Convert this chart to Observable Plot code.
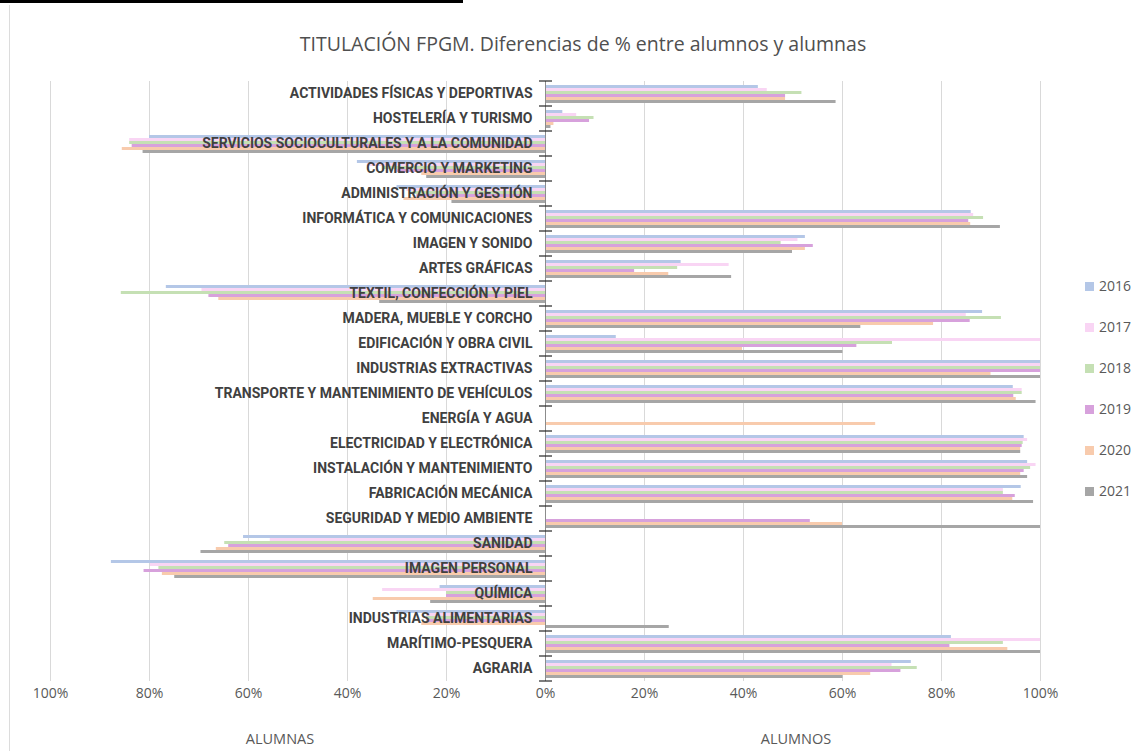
<!DOCTYPE html>
<html>
<head>
<meta charset="utf-8">
<script src="https://cdn.jsdelivr.net/npm/d3@7"></script>
<script src="https://cdn.jsdelivr.net/npm/@observablehq/plot@0.6"></script>
<style>
  body { margin: 0; background: #fff; }
  #wrap { position: relative; width: 1138px; height: 751px; overflow: hidden; background: #fff; font-family: "Open Sans", sans-serif; color: #595959; }
  #wrap svg { position: absolute; left: 0; top: 0; }
  .topline { position: absolute; left: 0; top: 0; width: 463px; height: 3px; background: #000; }
  .leftline { position: absolute; left: 9px; top: 5px; width: 1px; height: 746px; background: #dcdcdc; }
  .title { position: absolute; top: 30px; left: 583px; transform: translateX(-50%); white-space: nowrap; font-size: 19.5px; color: #4f4f4f; }
  .axtitle { position: absolute; top: 729px; transform: translateX(-50%); font-size: 14.5px; color: #595959; white-space: nowrap; }
  .legend { position: absolute; left: 1085px; top: 0; }
  .legend .item { position: absolute; left: 0; white-space: nowrap; font-size: 14px; color: #595959; line-height: 20px; height: 20px; }
  .legend .sw { display: inline-block; width: 9px; height: 9px; margin-right: 5px; vertical-align: 0px; }
</style>
</head>
<body>
<div id="wrap">
  <div class="topline"></div>
  <div class="leftline"></div>
</div>
<script>
// ---- data ----
const categories = [
  "ACTIVIDADES FÍSICAS Y DEPORTIVAS",
  "HOSTELERÍA Y TURISMO",
  "SERVICIOS SOCIOCULTURALES Y A LA COMUNIDAD",
  "COMERCIO Y MARKETING",
  "ADMINISTRACIÓN Y GESTIÓN",
  "INFORMÁTICA Y COMUNICACIONES",
  "IMAGEN Y SONIDO",
  "ARTES GRÁFICAS",
  "TEXTIL, CONFECCIÓN Y PIEL",
  "MADERA, MUEBLE Y CORCHO",
  "EDIFICACIÓN Y OBRA CIVIL",
  "INDUSTRIAS EXTRACTIVAS",
  "TRANSPORTE Y MANTENIMIENTO DE VEHÍCULOS",
  "ENERGÍA Y AGUA",
  "ELECTRICIDAD Y ELECTRÓNICA",
  "INSTALACIÓN Y MANTENIMIENTO",
  "FABRICACIÓN MECÁNICA",
  "SEGURIDAD Y MEDIO AMBIENTE",
  "SANIDAD",
  "IMAGEN PERSONAL",
  "QUÍMICA",
  "INDUSTRIAS ALIMENTARIAS",
  "MARÍTIMO-PESQUERA",
  "AGRARIA"
];
const years = ["2016", "2017", "2018", "2019", "2020", "2021"];
// positive = more alumnos (right), negative = more alumnas (left)
const v2016 = [43, 3.5, -80, -38, -30, 86, 52.5, 27.4, -76.6, 88.3, 14.3, 100, 94.5, 0, 96.7, 97.4, 96.1, 0, -61, -87.7, -21.3, -30, 82, 73.9];
const v2017 = [44.8, 6.3, -84, -36, -28, 86.5, 51, 37.1, -69.4, 85, 100, 100, 96.3, 0, 97.4, 99.1, 92.5, 0, -55.6, -79.8, -32.9, -24, 100, 70];
const v2018 = [51.8, 9.8, -84, -33, -27, 88.5, 47.6, 26.7, -85.7, 92.1, 70.1, 100, 96.3, 0, 96.5, 98, 92.5, 0, -64.8, -78.1, -20, -24, 92.5, 75.1];
const v2019 = [48.5, 8.9, -83.5, -30, -26, 85.5, 54.1, 18, -68, 85.8, 62.9, 100, 94.6, 0, 96.3, 96.7, 94.9, 53.5, -64, -81.1, -20, -24, 81.7, 71.8];
const v2020 = [48.5, 1.7, -85.5, -25, -28.6, 85.9, 52.5, 24.9, -66, 78.4, 39.8, 90, 95.1, 66.7, 96, 96, 94.4, 60, -66.5, -77.4, -34.8, -25, 93.4, 65.7];
const v2021 = [58.7, 1.1, -81.3, -24, -18.9, 91.9, 49.9, 37.6, -33.5, 63.7, 60.1, 100, 99.1, 0, 96, 97.4, 98.6, 100, -69.6, -74.9, -23.2, 25, 100, 60.1];
const series = [v2016, v2017, v2018, v2019, v2020, v2021];
const colors = ["#b4c7e7", "#f9d5f4", "#c5e0b4", "#d7a1dc", "#f8cbad", "#a6a6a6"];
const xTicks = [-100, -80, -60, -40, -20, 0, 20, 40, 60, 80, 100];
const titleText = "TITULACIÓN FPGM. Diferencias de % entre alumnos y alumnas";
const leftTitle = "ALUMNAS";
const rightTitle = "ALUMNOS";

// ---- table ----
const rows = categories.flatMap((c, i) => years.map((y, j) => ({cat: c, year: y, value: series[j][i]})));

const labelFont = 'Roboto, "Open Sans", sans-serif';

const plot = Plot.plot({
  width: 1138,
  height: 751,
  marginLeft: 50,
  marginRight: 98,
  marginTop: 81,
  marginBottom: 70,
  style: {fontFamily: '"Open Sans", sans-serif', fontSize: "14px", color: "#595959", background: "transparent"},
  x: {domain: [-100, 100], ticks: xTicks, tickFormat: d => Math.abs(d) + "%", tickSize: 0, tickPadding: 7, label: null},
  fy: {domain: categories, padding: 0, axis: null},
  y: {domain: years, paddingInner: 0, paddingOuter: 0.4, axis: null},
  color: {domain: years, range: colors},
  marks: [
    Plot.ruleX(xTicks, {stroke: "#d9d9d9", strokeWidth: 1}),
    Plot.barX(rows, {fy: "cat", y: "year", x1: 0, x2: "value", fill: "year"}),
    Plot.ruleX([0], {stroke: "#8c8c8c", strokeWidth: 1}),
    Plot.text(categories, {fy: d => d, x: 0, text: d => d, textAnchor: "end", dx: -13, fontWeight: "bold", fontSize: 14, fill: "#404040", fontFamily: labelFont})
  ]
});

// tick marks across the zero axis at category boundaries
const sx = plot.scale("x"), sfy = plot.scale("fy");
const x0 = sx.apply(0);
const bounds = categories.map(c => sfy.apply(c)).concat([sfy.apply(categories[categories.length - 1]) + sfy.bandwidth]);
d3.select(plot).append("g")
  .selectAll("line").data(bounds).join("line")
  .attr("x1", x0 - 6).attr("x2", x0 + 7)
  .attr("y1", d => d).attr("y2", d => d)
  .attr("stroke", "#262626").attr("stroke-width", 1.2);

const wrap = document.getElementById("wrap");
wrap.appendChild(plot);

const t = document.createElement("div"); t.className = "title"; t.textContent = titleText; wrap.appendChild(t);
const a1 = document.createElement("div"); a1.className = "axtitle"; a1.style.left = "280px"; a1.textContent = leftTitle; wrap.appendChild(a1);
const a2 = document.createElement("div"); a2.className = "axtitle"; a2.style.left = "796px"; a2.textContent = rightTitle; wrap.appendChild(a2);

const lg = document.createElement("div"); lg.className = "legend";
years.forEach((y, i) => {
  const it = document.createElement("div"); it.className = "item";
  it.style.top = (276 + i * 41) + "px";
  const sw = document.createElement("span"); sw.className = "sw"; sw.style.background = colors[i];
  it.appendChild(sw); it.appendChild(document.createTextNode(y));
  lg.appendChild(it);
});
wrap.appendChild(lg);
</script>
</body>
</html>
